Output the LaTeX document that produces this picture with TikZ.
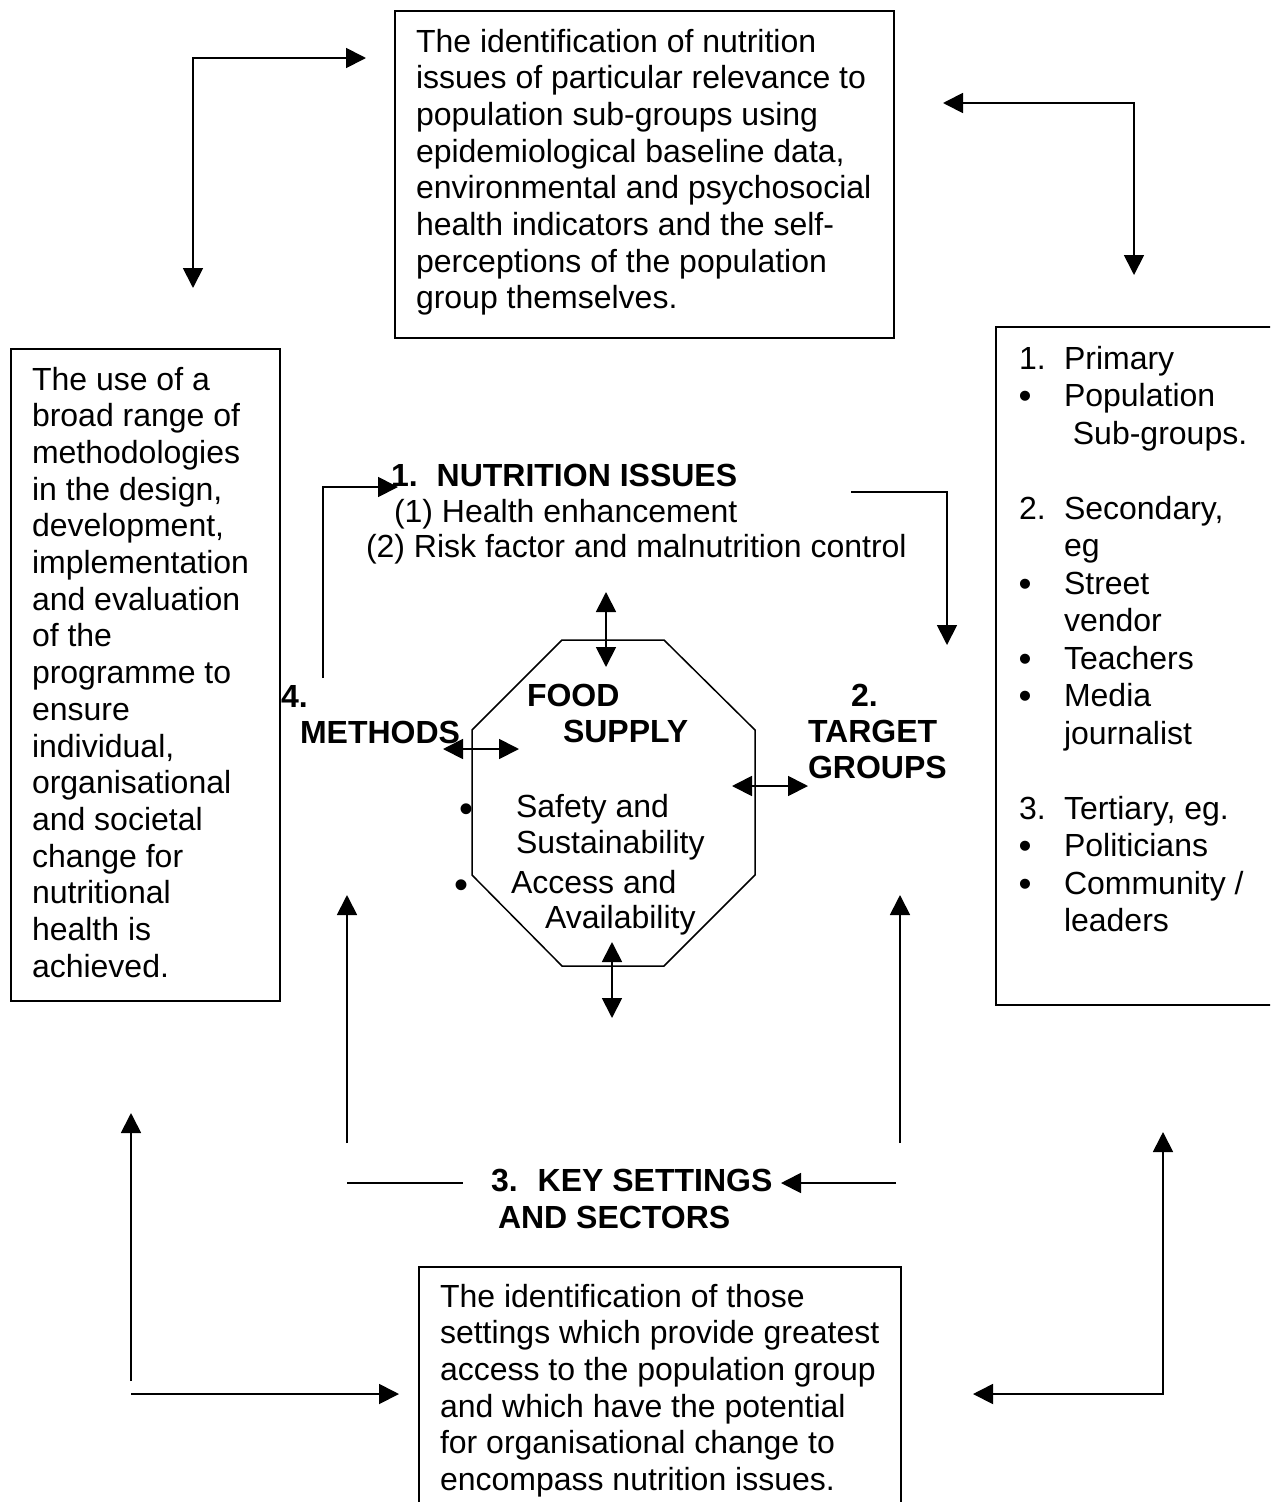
\documentclass[tikz,border=0pt]{standalone}
\usepackage{fontspec}
\setmainfont{Liberation Sans}
\usetikzlibrary{arrows.meta}
\newcommand{\rrow}[2]{\makebox[45pt][l]{#1}#2}
\newcommand{\rbul}{\hspace{-0.5pt}\raisebox{-2pt}{\fontsize{37}{37}\selectfont\textbullet}}
\begin{document}
\begin{tikzpicture}[x=1pt,y=-1pt,
  every node/.style={inner sep=0pt, outer sep=0pt},
  body/.style={anchor=base west, font=\fontsize{32}{36.7}\selectfont},
  head/.style={anchor=base west, font=\fontsize{32}{36.7}\selectfont\bfseries},
  bul/.style={anchor=base, font=\fontsize{40}{40}\selectfont},
  frame/.style={draw, line width=1.6pt, anchor=north west},
  conn/.style={line width=1.8pt},
  >={Triangle[length=20pt,width=20pt]}]
\useasboundingbox (0,0) rectangle (1270,1502);
\fill[white] (0,0) rectangle (1270,1502);
\clip (0,0) rectangle (1270,1502);

% boxes
\node[frame, minimum width=499pt, minimum height=327pt] (topbox) at (395,11) {};
\node[frame, minimum width=269pt, minimum height=652pt] (leftbox) at (11,349) {};
\node[frame, minimum width=300pt, minimum height=678pt] (rightbox) at (996,327) {};
\node[frame, minimum width=482pt, minimum height=260pt] (botbox) at (419,1267) {};

% box texts
\node[body] (toptext) at (416,52) {\parbox[t]{600pt}{\raggedright
The identification of nutrition\\
issues of particular relevance to\\
population sub-groups using\\
epidemiological baseline data,\\
environmental and psychosocial\\
health indicators and the self-\\
perceptions of the population\\
group themselves.}};

\node[body] (lefttext) at (32,390) {\parbox[t]{300pt}{\raggedright
The use of a\\
broad range of\\
methodologies\\
in the design,\\
development,\\
implementation\\
and evaluation\\
of the\\
programme to\\
ensure\\
individual,\\
organisational\\
and societal\\
change for\\
nutritional\\
health is\\
achieved.}};

\node[anchor=base west, font=\fontsize{32}{37.5}\selectfont] (righttext) at (1019,369) {\parbox[t]{400pt}{\raggedright
\rrow{1.}{Primary}\\
\rrow{\rbul}{Population}\\
\rrow{}{\ Sub-groups.}\\
\mbox{}\\
\rrow{2.}{Secondary,}\\
\rrow{}{eg}\\
\rrow{\rbul}{Street}\\
\rrow{}{vendor}\\
\rrow{\rbul}{Teachers}\\
\rrow{\rbul}{Media}\\
\rrow{}{journalist}\\
\mbox{}\\
\rrow{3.}{Tertiary, eg.}\\
\rrow{\rbul}{Politicians}\\
\rrow{\rbul}{Community /}\\
\rrow{}{leaders}}};

\node[body] (bottext) at (440,1307) {\parbox[t]{600pt}{\raggedright
The identification of those\\
settings which provide greatest\\
access to the population group\\
and which have the potential\\
for organisational change to\\
encompass nutrition issues.}};

% central labels
\node[head] (nutr) at (391,486) {1.\hspace{19pt}NUTRITION ISSUES};
\node[body] (nutr1) at (394,522) {(1) Health enhancement};
\node[body] (nutr2) at (366,557) {(2) Risk factor and malnutrition control};
\node[head] (meth4) at (281,707) {4.};
\node[head] (meth) at (300,743) {METHODS};
\node[head] (tg2) at (851,706) {2.};
\node[head] (tg) at (808,742) {TARGET};
\node[head] (tg3) at (808,778) {GROUPS};
\node[head] (key) at (491,1191) {3.\hspace{20pt}KEY SETTINGS};
\node[head] (key2) at (498,1228) {AND SECTORS};

% food supply octagon
\draw[line width=1.5pt] (562,640) -- (664,640) -- (755,730) -- (755,875)
  -- (664,966) -- (562,966) -- (472,875) -- (472,730) -- cycle;
\node[head] (food) at (527,706) {FOOD};
\node[head] (supply) at (563,742) {SUPPLY};
\node[bul] (b1) at (466,822.5) {\textbullet};
\node[bul] (b2) at (461,898.5) {\textbullet};
\node[body] (safe) at (516,817) {Safety and};
\node[body] (sust) at (516,853) {Sustainability};
\node[body] (acc) at (511,893) {Access and};
\node[body] (avail) at (545,928) {Availability};

% connector end points
\coordinate (a1) at (193,288); \coordinate (a2) at (366,58);
\coordinate (b1e) at (943,103); \coordinate (b2e) at (1134,275);
\coordinate (c1) at (131,1381); \coordinate (c2) at (131,1113);
\coordinate (d1) at (131,1394); \coordinate (d2) at (399,1394);
\coordinate (e1) at (973,1394); \coordinate (e2) at (1163,1132);
\coordinate (f1) at (323,678); \coordinate (f2) at (398,487);
\coordinate (g1) at (851,492); \coordinate (g2) at (947,645);
\coordinate (h1) at (347,1143); \coordinate (h2) at (347,895);
\coordinate (i1) at (900,1143); \coordinate (i2) at (900,895);
\coordinate (j1) at (347,1183); \coordinate (j2) at (463,1183);
\coordinate (k1) at (896,1183); \coordinate (k2) at (781,1183);
\coordinate (m1) at (606,592); \coordinate (m2) at (606,667);
\coordinate (n1) at (443,749); \coordinate (n2) at (519,749);
\coordinate (o1) at (732,786); \coordinate (o2) at (808,786);
\coordinate (p1) at (612,942); \coordinate (p2) at (612,1018);

\draw[conn,<->] (a1) |- (a2);
\draw[conn,<->] (b1e) -| (b2e);
\draw[conn,->] (c1) -- (c2);
\draw[conn,->] (d1) -- (d2);
\draw[conn,<->] (e1) -| (e2);
\draw[conn,->] (f1) |- (f2);
\draw[conn,->] (g1) -| (g2);
\draw[conn,->] (h1) -- (h2);
\draw[conn,->] (i1) -- (i2);
\draw[conn] (j1) -- (j2);
\draw[conn,->] (k1) -- (k2);
\draw[conn,<->] (m1) -- (m2);
\draw[conn,<->] (n1) -- (n2);
\draw[conn,<->] (o1) -- (o2);
\draw[conn,<->] (p1) -- (p2);
\end{tikzpicture}
\end{document}
